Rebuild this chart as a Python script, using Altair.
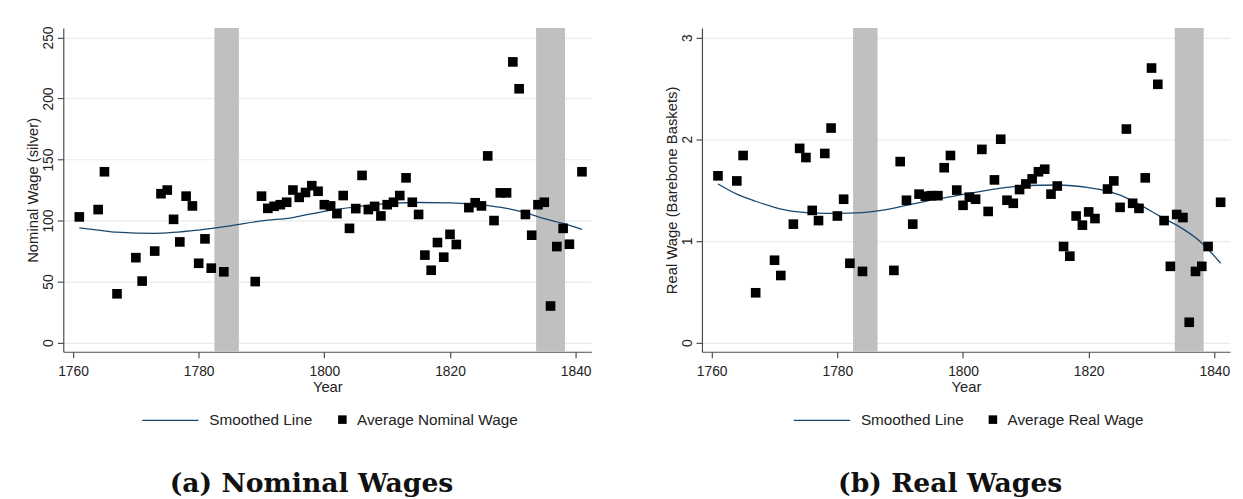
import altair as alt
import pandas as pd

# ---------------- data ----------------
years = [1761, 1764, 1765, 1767, 1770, 1771, 1773, 1774, 1775, 1776, 1777, 1778, 1779,
         1780, 1781, 1782, 1784, 1789, 1790, 1791, 1792, 1793, 1794, 1795, 1796, 1797,
         1798, 1799, 1800, 1801, 1802, 1803, 1804, 1805, 1806, 1807, 1808, 1809, 1810,
         1811, 1812, 1813, 1814, 1815, 1816, 1817, 1818, 1819, 1820, 1821, 1823, 1824,
         1825, 1826, 1827, 1828, 1829, 1830, 1831, 1832, 1833, 1834, 1835, 1836, 1837,
         1838, 1839, 1841]

nominal_wage = [103, 109, 140, 40, 69.6, 50.4, 75, 122, 125, 101, 82.5, 120, 112,
                65, 85, 61, 58, 50, 120, 110, 111.7, 113, 115, 125, 119, 123,
                128.6, 124, 113, 112, 105.7, 120.5, 93.6, 109.8, 137, 109, 111.6, 103.8, 113,
                115, 120.5, 135, 115, 105, 71.7, 59.3, 82, 70, 88.7, 80.4, 110.6, 114.6,
                112, 153, 100, 122.7, 122.7, 230, 208, 105, 88, 113, 115, 30, 78.7,
                93.6, 80.6, 140]

real_wage = [1.64, 1.59, 1.84, 0.49, 0.81, 0.66, 1.165, 1.91, 1.82, 1.30, 1.20, 1.86, 2.11,
             1.245, 1.41, 0.78, 0.70, 0.71, 1.78, 1.40, 1.165, 1.46, 1.44, 1.445, 1.445, 1.72,
             1.84, 1.50, 1.35, 1.43, 1.41, 1.90, 1.29, 1.60, 2.00, 1.40, 1.37, 1.505, 1.56,
             1.61, 1.68, 1.705, 1.46, 1.54, 0.945, 0.85, 1.245, 1.155, 1.285, 1.22, 1.51, 1.59,
             1.33, 2.10, 1.37, 1.32, 1.62, 2.70, 2.54, 1.20, 0.75, 1.26, 1.23, 0.20, 0.70,
             0.75, 0.945, 1.38]

smooth_nom_years = [1761, 1764, 1767, 1773, 1780, 1785, 1790, 1795, 1800, 1805, 1811,
                    1815, 1820, 1825, 1829, 1832, 1835, 1838, 1841]
smooth_nom = [94, 92.2, 90.5, 89.5, 92.2, 95.7, 99.7, 102.5, 107.6, 111.2, 114.2,
              114.8, 114.5, 112.9, 110, 106.5, 101.6, 97.6, 92.7]

smooth_real_years = [1761, 1764, 1767, 1770, 1773, 1778, 1783, 1787, 1791, 1794, 1799,
                     1805, 1810, 1815, 1820, 1823, 1825, 1828, 1832, 1834, 1838, 1841]
smooth_real = [1.56, 1.46, 1.39, 1.33, 1.29, 1.27, 1.275, 1.30, 1.35, 1.39, 1.445,
               1.51, 1.545, 1.55, 1.525, 1.49, 1.45, 1.36, 1.22, 1.155, 0.98, 0.78]

band_start = [1782.5, 1833.7]
band_end = [1786.4, 1838.3]

x_ticks = [1760, 1780, 1800, 1820, 1840]
nom_ticks = [0, 50, 100, 150, 200, 250]
real_ticks = [0, 1, 2, 3]

# ---------------- styling ----------------
FONT = "Liberation Sans"
LINE_COLOR = "#1a476f"
TEXT = "#222222"
AXIS = "#4d4d4d"
GRID = "#e4eced"
BAND = "#c0c0c0"


def panel(key, vals, sm_years, sm_vals, ydom, yticks, ytitle, pt_label, caption,
          lx_line, lx_pt):
    xscale = alt.Scale(domain=[1758.45, 1842.5], nice=False, zero=False)
    yscale = alt.Scale(domain=ydom, nice=False, zero=False)
    xaxis = alt.Axis(values=x_ticks, format="d", title="Year", grid=False,
                     domainColor=AXIS, domainWidth=1.2, tickColor=AXIS, tickSize=6,
                     tickWidth=1.2, labelFont=FONT, labelFontSize=14, labelColor=TEXT,
                     labelPadding=7, titleFont=FONT, titleFontSize=15,
                     titleFontWeight="normal", titleColor=TEXT, titlePadding=1)
    yaxis = alt.Axis(values=yticks, format="d", title=ytitle, grid=True,
                     gridColor=GRID, gridWidth=1.2, domainColor=AXIS, domainWidth=1.2,
                     tickColor=AXIS, tickSize=6, tickWidth=1.2, labelFont=FONT,
                     labelFontSize=14, labelColor=TEXT, labelAngle=270,
                     labelAlign="center", labelBaseline="bottom", labelPadding=2,
                     titleFont=FONT, titleFontSize=15, titleFontWeight="normal",
                     titleColor=TEXT, titlePadding=1)

    s_field = "series_" + key
    bands_df = pd.DataFrame({"year": band_start, "year2": band_end,
                             "v": [ydom[0]] * len(band_start),
                             "v2": [ydom[1]] * len(band_start)})
    bands = alt.Chart(bands_df).mark_rect(color=BAND).encode(
        x=alt.X("year:Q", scale=xscale, axis=xaxis), x2="year2:Q",
        y=alt.Y("v:Q", scale=yscale, axis=yaxis), y2="v2:Q")

    sm_df = pd.DataFrame({"year": sm_years, "v": sm_vals})
    sm_df[s_field + "_l"] = "Smoothed Line"
    line = alt.Chart(sm_df).mark_line(strokeWidth=1.3, interpolate="monotone").encode(
        x=alt.X("year:Q", scale=xscale, axis=xaxis),
        y=alt.Y("v:Q", scale=yscale, axis=yaxis),
        stroke=alt.Stroke(s_field + "_l:N",
                          scale=alt.Scale(domain=["Smoothed Line"], range=[LINE_COLOR]),
                          legend=alt.Legend(orient="none", legendX=lx_line, legendY=368,
                                            title=None, symbolType="stroke",
                                            symbolSize=3249, symbolStrokeWidth=1.3,
                                            labelFont=FONT, labelFontSize=15.5,
                                            labelLimit=400,
                                            labelColor=TEXT, labelOffset=10, padding=0)))

    pt_df = pd.DataFrame({"year": years, "v": vals})
    pt_df[s_field + "_p"] = pt_label
    pts = alt.Chart(pt_df).mark_point(filled=True, shape="square", size=95,
                                      opacity=1).encode(
        x=alt.X("year:Q", scale=xscale, axis=xaxis),
        y=alt.Y("v:Q", scale=yscale, axis=yaxis),
        fill=alt.Fill(s_field + "_p:N",
                      scale=alt.Scale(domain=[pt_label], range=["#000000"]),
                      legend=alt.Legend(orient="none", legendX=lx_pt, legendY=389,
                                        title=None, symbolType="square", symbolSize=75,
                                        symbolOpacity=1, labelFont=FONT,
                                        labelFontSize=15.5, labelColor=TEXT,
                                        labelLimit=400,
                                        labelOffset=7, padding=0)))

    return alt.layer(bands, line, pts).resolve_legend(fill="independent",
                                                     stroke="independent").properties(
        width=535, height=328,
        title=alt.TitleParams(text=caption, orient="bottom", anchor="middle",
                              font="DejaVu Serif", fontSize=27, fontWeight="bold",
                              color="#111111", offset=43, dx=-16))


left = panel("a", nominal_wage, smooth_nom_years, smooth_nom, [-7.5, 257.8], nom_ticks,
             "Nominal Wage (silver)", "Average Nominal Wage", "(a) Nominal Wages",
             79, 275)
right = panel("b", real_wage, smooth_real_years, smooth_real, [-0.09, 3.094], real_ticks,
              "Real Wage (Barebone Baskets)", "Average Real Wage", "(b) Real Wages",
              92, 287)

chart = alt.hconcat(left, right, spacing=74).resolve_scale(
    fill="independent", stroke="independent").resolve_legend(
    fill="independent", stroke="independent").properties(
    padding={"left": 18, "top": 14, "right": 5, "bottom": 5},
    background="white",
).configure_view(strokeWidth=0)

chart.save("out.html", embed_options={"renderer": "svg", "actions": False})
